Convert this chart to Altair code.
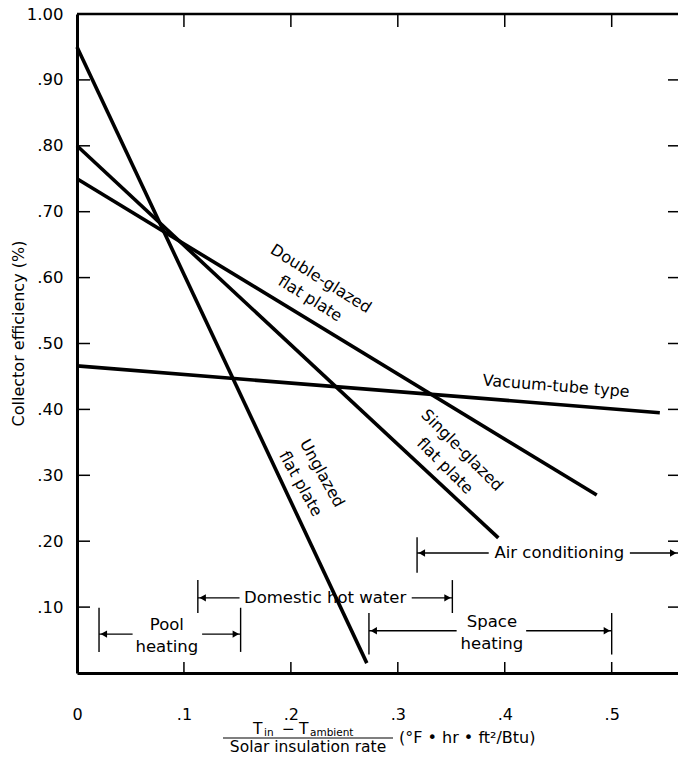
import altair as alt
import pandas as pd

# ---------------- data ----------------
series = ["Unglazed", "Single-glazed", "Double-glazed", "Vacuum-tube"]
x_start = [0.0, 0.0, 0.0, 0.0]
eff_start = [0.95, 0.80, 0.75, 0.466]
x_end = [0.271, 0.394, 0.486, 0.545]
eff_end = [0.015, 0.205, 0.270, 0.395]

label_text = ["Double-glazed", "flat plate", "Single-glazed", "flat plate",
              "Unglazed", "flat plate", "Vacuum-tube type"]
label_x = [0.228, 0.218, 0.360, 0.344, 0.229, 0.209, 0.448]
label_y = [0.598, 0.568, 0.338, 0.314, 0.303, 0.287, 0.435]
label_angle = [32, 32, 45, 45, 61, 61, 4.5]

# application ranges (x in deg F hr ft2/Btu)
range_names = ["Pool heating", "Domestic hot water", "Space heating", "Air conditioning"]
range_lo = [0.0206, 0.113, 0.273, 0.318]
range_hi = [0.153, 0.351, 0.500, 0.562]
range_hi_tick = [True, True, True, False]
range_arrow_y = [0.059, 0.114, 0.064, 0.182]
range_tick_bottom = [0.032, 0.091, 0.028, 0.152]
range_tick_top = [0.099, 0.141, 0.091, 0.206]
range_gap_left = [0.052, 0.152, 0.355, 0.385]
range_gap_right = [0.117, 0.313, 0.420, 0.517]

range_label_text = ["Pool", "heating", "Domestic hot water", "Space", "heating", "Air conditioning"]
range_label_x = [0.084, 0.084, 0.232, 0.388, 0.388, 0.451]
range_label_y = [0.073, 0.039, 0.114, 0.077, 0.044, 0.182]

x_ticks = [0.0, 0.1, 0.2, 0.3, 0.4, 0.5]
y_ticks = [0.1, 0.2, 0.3, 0.4, 0.5, 0.6, 0.7, 0.8, 0.9, 1.0]

# ---------------- layout ----------------
W, H = 601, 659
FONT = "DejaVu Sans"
XMAX = 0.562

lines_df = pd.DataFrame({
    "series": series * 2,
    "x": x_start + x_end,
    "y": eff_start + eff_end,
})
labels_df = pd.DataFrame({"text": label_text, "x": label_x, "y": label_y, "angle": label_angle})

seg_rows = []
tick_rows = []
headL, headR = [], []
for i in range(len(range_names)):
    y = range_arrow_y[i]
    seg_rows.append({"x": range_lo[i], "x2": range_gap_left[i], "y": y})
    seg_rows.append({"x": range_gap_right[i], "x2": range_hi[i], "y": y})
    tick_rows.append({"x": range_lo[i], "y": range_tick_bottom[i], "y2": range_tick_top[i]})
    if range_hi_tick[i]:
        tick_rows.append({"x": range_hi[i], "y": range_tick_bottom[i], "y2": range_tick_top[i]})
    headL.append({"x": range_lo[i] + 0.0045, "y": y})
    headR.append({"x": range_hi[i] - 0.0045, "y": y})
seg_df = pd.DataFrame(seg_rows)
rtick_df = pd.DataFrame(tick_rows)
headL_df = pd.DataFrame(headL)
headR_df = pd.DataFrame(headR)
rlab_df = pd.DataFrame({"text": range_label_text, "x": range_label_x, "y": range_label_y})

xscale = alt.Scale(domain=[0, XMAX], nice=False, zero=True)
yscale = alt.Scale(domain=[0, 1.0], nice=False, zero=True)

NB = "\u00a0"
xaxis = alt.Axis(values=x_ticks,
                 labelExpr="datum.value == 0 ? '0" + NB * 4 + "' : slice(format(datum.value, '.1f'), 1)",
                 ticks=False, tickSize=0, grid=False, domainWidth=3, domainColor="black",
                 labelFont=FONT, labelFontSize=16, labelColor="black", labelPadding=33,
                 labelFlush=False, labelOverlap=False, title=None)
yaxis = alt.Axis(values=y_ticks,
                 labelExpr="datum.value >= 1 ? '1.00' : slice(format(datum.value, '.2f'), 1)",
                 ticks=False, tickSize=0, grid=False, domainWidth=3, domainColor="black",
                 labelFont=FONT, labelFontSize=16.5, labelColor="black", labelPadding=14,
                 labelFlush=False, labelOverlap=False,
                 title="Collector efficiency (%)", titleFont=FONT, titleFontSize=16,
                 titleFontWeight="normal", titleColor="black",
                 titleX=-59, titleY=319, titleAngle=270, titleAlign="center",
                 titleBaseline="middle")


def X(field="x"):
    return alt.X(f"{field}:Q", scale=xscale, axis=xaxis)


def Y(field="y"):
    return alt.Y(f"{field}:Q", scale=yscale, axis=yaxis)


curves = alt.Chart(lines_df).mark_line(color="black", strokeWidth=3.6).encode(
    x=X(), y=Y(), detail="series:N")

curve_labels = alt.Chart(labels_df).mark_text(
    font=FONT, fontSize=16, color="black", align="center", baseline="middle").encode(
    x=X(), y=Y(), text="text:N", angle=alt.Angle("angle:Q", scale=None))

segs = alt.Chart(seg_df).mark_rule(color="black", strokeWidth=1.4).encode(
    x=X(), x2="x2:Q", y=Y())
rticks = alt.Chart(rtick_df).mark_rule(color="black", strokeWidth=1.4).encode(
    x=X(), y=Y(), y2="y2:Q")
hl = alt.Chart(headL_df).mark_point(shape="triangle-left", filled=True, size=55,
                                    color="black", opacity=1).encode(x=X(), y=Y())
hr = alt.Chart(headR_df).mark_point(shape="triangle-right", filled=True, size=55,
                                    color="black", opacity=1).encode(x=X(), y=Y())
rlabels = alt.Chart(rlab_df).mark_text(
    font=FONT, fontSize=16.5, color="black", align="center", baseline="middle").encode(
    x=X(), y=Y(), text="text:N")

# inward frame ticks
xt_df = pd.DataFrame({"x": x_ticks[1:]})
yt_df = pd.DataFrame({"y": y_ticks[:-1]})
bottom_ticks = alt.Chart(xt_df).mark_rule(color="black", strokeWidth=1.5).encode(
    x=X(), y=alt.value(H), y2=alt.value(H - 11))
top_ticks = alt.Chart(xt_df).mark_rule(color="black", strokeWidth=1.5).encode(
    x=X(), y=alt.value(0), y2=alt.value(13))
left_ticks = alt.Chart(yt_df).mark_rule(color="black", strokeWidth=1.5).encode(
    y=Y(), x=alt.value(0), x2=alt.value(13))
right_ticks = alt.Chart(yt_df).mark_rule(color="black", strokeWidth=1.5).encode(
    y=Y(), x=alt.value(W - 10), x2=alt.value(W))
top_border = alt.Chart(pd.DataFrame({"a": [0]})).mark_rule(color="black", strokeWidth=2.5).encode(
    x=alt.value(0), x2=alt.value(W), y=alt.value(0))

# x-axis title (fraction)
title_parts = pd.DataFrame({
    "text": ["T", "in", "\u2212", "T", "ambient", "Solar insulation rate",
             "(\u00b0F \u2022 hr \u2022 ft\u00b2/Btu)"],
    "px": [176, 187, 205, 222, 233, 231, 322],
    "py": [715, 719, 715, 715, 719, 733, 724],
    "size": [15.5, 10.5, 15.5, 15.5, 10.5, 15.5, 16],
    "align": ["left", "left", "left", "left", "left", "center", "left"],
})
tparts = []
for _, r in title_parts.iterrows():
    tparts.append(
        alt.Chart(pd.DataFrame({"t": [r["text"]]})).mark_text(
            font=FONT, fontSize=float(r["size"]), color="black", align=r["align"],
            baseline="middle").encode(
            x=alt.value(float(r["px"])), y=alt.value(float(r["py"])), text="t:N"))
frac_bar = alt.Chart(pd.DataFrame({"a": [0]})).mark_rule(color="black", strokeWidth=1.2).encode(
    x=alt.value(146), x2=alt.value(316), y=alt.value(724))

chart = alt.layer(
    curves, curve_labels, segs, rticks, hl, hr, rlabels,
    bottom_ticks, top_ticks, left_ticks, right_ticks, top_border, frac_bar, *tparts
).properties(
    width=W, height=H,
    autosize=alt.AutoSizeParams(type="none"),
    padding={"left": 69, "top": 6, "right": 0, "bottom": 83},
).configure_view(stroke=None)

chart.save("out.html", embed_options={"renderer": "svg", "actions": False})
